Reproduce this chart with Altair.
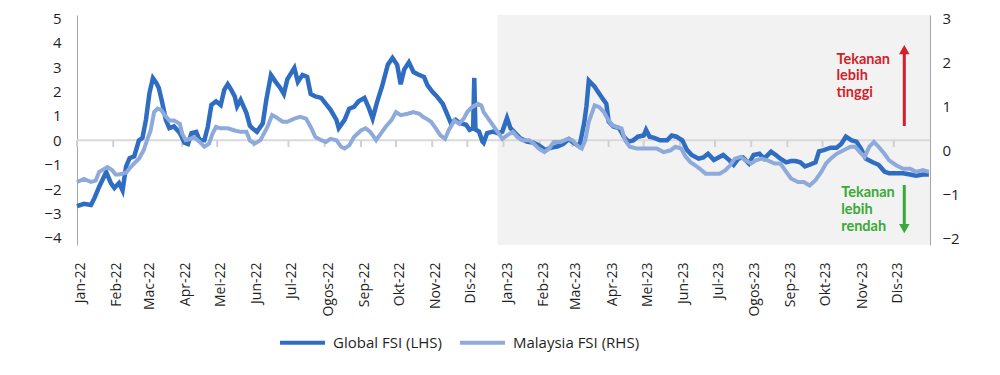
import altair as alt
import pandas as pd

# ---------------- data ----------------
MONTHS_MS = ["Jan", "Feb", "Mac", "Apr", "Mei", "Jun", "Jul", "Ogos", "Sep", "Okt", "Nov", "Dis"]
SERIES = ["Global FSI (LHS)", "Malaysia FSI (RHS)"]
COLORS = ["#2f6dc3", "#8eaadb"]

global_dates = [
    "2022-01-01", "2022-01-07", "2022-01-13", "2022-01-16", "2022-01-20", "2022-01-26", "2022-01-30",
    "2022-02-02", "2022-02-06", "2022-02-09", "2022-02-12", "2022-02-15", "2022-02-19", "2022-02-23",
    "2022-02-26", "2022-03-01", "2022-03-04", "2022-03-07", "2022-03-10", "2022-03-12", "2022-03-15",
    "2022-03-18", "2022-03-21", "2022-03-25", "2022-03-30", "2022-04-03", "2022-04-06", "2022-04-09",
    "2022-04-13", "2022-04-16", "2022-04-20", "2022-04-23", "2022-04-26", "2022-04-30", "2022-05-04",
    "2022-05-07", "2022-05-10", "2022-05-13", "2022-05-16", "2022-05-18", "2022-05-21", "2022-05-26",
    "2022-05-29", "2022-05-31", "2022-06-04", "2022-06-09", "2022-06-12", "2022-06-16", "2022-06-20",
    "2022-06-24", "2022-06-27", "2022-06-30", "2022-07-06", "2022-07-09", "2022-07-13", "2022-07-17",
    "2022-07-20", "2022-07-24", "2022-07-29", "2022-08-02", "2022-08-06", "2022-08-11", "2022-08-13",
    "2022-08-18", "2022-08-22", "2022-08-26", "2022-08-30", "2022-09-04", "2022-09-08", "2022-09-11",
    "2022-09-15", "2022-09-19", "2022-09-24", "2022-09-28", "2022-10-02", "2022-10-05", "2022-10-08",
    "2022-10-12", "2022-10-16", "2022-10-20", "2022-10-25", "2022-10-28", "2022-11-01", "2022-11-05",
    "2022-11-10", "2022-11-14", "2022-11-17", "2022-11-21", "2022-11-25", "2022-11-30", "2022-12-03",
    "2022-12-06", "2022-12-07", "2022-12-08", "2022-12-11", "2022-12-14", "2022-12-15", "2022-12-18",
    "2022-12-23", "2022-12-27", "2022-12-31", "2023-01-04", "2023-01-07", "2023-01-11", "2023-01-15",
    "2023-01-21", "2023-01-27", "2023-01-31", "2023-02-06", "2023-02-10", "2023-02-16", "2023-02-21",
    "2023-02-26", "2023-03-02", "2023-03-07", "2023-03-11", "2023-03-13", "2023-03-15", "2023-03-17",
    "2023-03-20", "2023-03-22", "2023-03-27", "2023-03-30", "2023-04-01", "2023-04-05", "2023-04-10",
    "2023-04-14", "2023-04-18", "2023-04-22", "2023-04-26", "2023-05-01", "2023-05-03", "2023-05-06",
    "2023-05-10", "2023-05-15", "2023-05-21", "2023-05-25", "2023-05-29", "2023-06-03", "2023-06-07",
    "2023-06-11", "2023-06-17", "2023-06-21", "2023-06-25", "2023-06-30", "2023-07-04", "2023-07-08",
    "2023-07-13", "2023-07-17", "2023-07-21", "2023-07-25", "2023-07-30", "2023-08-03", "2023-08-08",
    "2023-08-12", "2023-08-18", "2023-08-22", "2023-08-26", "2023-08-31", "2023-09-04", "2023-09-08",
    "2023-09-12", "2023-09-16", "2023-09-20", "2023-09-25", "2023-09-28", "2023-10-02", "2023-10-08",
    "2023-10-13", "2023-10-17", "2023-10-21", "2023-10-26", "2023-10-30", "2023-11-03", "2023-11-07",
    "2023-11-13", "2023-11-18", "2023-11-23", "2023-11-27", "2023-12-03", "2023-12-09", "2023-12-15",
    "2023-12-20", "2023-12-26", "2023-12-31",
]
global_vals = [
    -2.7, -2.6, -2.65, -2.36, -1.9, -1.3, -1.75,
    -1.95, -1.75, -2.05, -1.08, -0.73, -0.65, 0.0,
    0.1, 0.84, 1.94, 2.55, 2.35, 2.15, 1.53,
    0.84, 0.5, 0.57, 0.3, -0.1, -0.15, 0.3,
    0.35, 0.0, 0.0, 0.57, 1.45, 1.6, 1.45,
    2.07, 2.3, 2.07, 1.8, 1.4, 1.66, 1.12,
    0.6, 0.5, 0.35, 0.7, 1.66, 2.68, 2.4,
    2.15, 1.9, 2.5, 2.97, 2.4, 2.68, 2.6,
    1.9, 1.8, 1.74, 1.5, 1.25, 0.84, 0.5,
    0.84, 1.3, 1.37, 1.6, 1.74, 1.3, 0.9,
    1.6, 2.2, 3.1, 3.38, 3.1, 2.3, 2.9,
    3.2, 2.8, 2.7, 2.6, 2.25, 2.0, 1.8,
    1.5, 1.05, 0.7, 0.84, 0.7, 0.64, 0.43,
    0.5, 2.56, 0.45, 0.36, -0.05, -0.1, 0.3,
    0.36, 0.3, 0.36, 0.92, 0.5, 0.3, 0.1,
    -0.05, -0.1, -0.2, -0.4, -0.3, -0.25, -0.15,
    0.05, -0.1, -0.25, 0.7, 1.4, 2.45, 2.35,
    2.2, 2.05, 1.7, 1.5, 0.77, 0.57, 0.5,
    0.15, -0.05, 0.0, 0.15, 0.2, 0.43, 0.15,
    0.1, 0.0, 0.0, 0.2, 0.15, 0.0, -0.39,
    -0.6, -0.75, -0.7, -0.55, -0.8, -0.7, -0.6,
    -0.8, -1.0, -0.75, -0.7, -0.95, -0.6, -0.55,
    -0.75, -0.46, -0.6, -0.75, -0.9, -0.85, -0.85,
    -0.9, -1.07, -1.0, -0.9, -0.45, -0.4, -0.3,
    -0.3, -0.15, 0.15, 0.0, -0.05, -0.35, -0.75,
    -0.9, -1.0, -1.28, -1.35, -1.35, -1.35, -1.4,
    -1.45, -1.4, -1.4,
]

my_dates = [
    "2022-01-01", "2022-01-07", "2022-01-13", "2022-01-17", "2022-01-20", "2022-01-27", "2022-01-31",
    "2022-02-03", "2022-02-06", "2022-02-12", "2022-02-16", "2022-02-20", "2022-02-23", "2022-02-27",
    "2022-03-02", "2022-03-05", "2022-03-08", "2022-03-11", "2022-03-14", "2022-03-17", "2022-03-21",
    "2022-03-25", "2022-03-30", "2022-04-01", "2022-04-04", "2022-04-07", "2022-04-11", "2022-04-16",
    "2022-04-20", "2022-04-24", "2022-04-27", "2022-04-30", "2022-05-04", "2022-05-10", "2022-05-16",
    "2022-05-21", "2022-05-26", "2022-05-29", "2022-06-02", "2022-06-07", "2022-06-13", "2022-06-17",
    "2022-06-20", "2022-06-26", "2022-06-30", "2022-07-06", "2022-07-11", "2022-07-16", "2022-07-20",
    "2022-07-24", "2022-07-29", "2022-08-02", "2022-08-06", "2022-08-11", "2022-08-15", "2022-08-18",
    "2022-08-22", "2022-08-26", "2022-09-01", "2022-09-05", "2022-09-09", "2022-09-14", "2022-09-18",
    "2022-09-22", "2022-09-27", "2022-10-01", "2022-10-05", "2022-10-11", "2022-10-16", "2022-10-21",
    "2022-10-24", "2022-10-27", "2022-10-31", "2022-11-04", "2022-11-08", "2022-11-12", "2022-11-15",
    "2022-11-20", "2022-11-24", "2022-11-28", "2022-12-01", "2022-12-05", "2022-12-10", "2022-12-13",
    "2022-12-15", "2022-12-20", "2022-12-24", "2022-12-28", "2022-12-31", "2023-01-04", "2023-01-09",
    "2023-01-13", "2023-01-17", "2023-01-23", "2023-01-27", "2023-01-31", "2023-02-05", "2023-02-09",
    "2023-02-13", "2023-02-19", "2023-02-25", "2023-03-01", "2023-03-05", "2023-03-09", "2023-03-12",
    "2023-03-15", "2023-03-20", "2023-03-24", "2023-03-28", "2023-03-31", "2023-04-04", "2023-04-08",
    "2023-04-12", "2023-04-15", "2023-04-19", "2023-04-25", "2023-05-03", "2023-05-12", "2023-05-18",
    "2023-05-24", "2023-05-28", "2023-06-02", "2023-06-06", "2023-06-10", "2023-06-14", "2023-06-18",
    "2023-06-23", "2023-06-30", "2023-07-05", "2023-07-10", "2023-07-14", "2023-07-18", "2023-07-23",
    "2023-07-27", "2023-08-01", "2023-08-05", "2023-08-10", "2023-08-15", "2023-08-21", "2023-08-26",
    "2023-08-31", "2023-09-04", "2023-09-10", "2023-09-15", "2023-09-20", "2023-09-25", "2023-09-30",
    "2023-10-04", "2023-10-08", "2023-10-13", "2023-10-19", "2023-10-25", "2023-10-29", "2023-11-02",
    "2023-11-06", "2023-11-10", "2023-11-14", "2023-11-18", "2023-11-23", "2023-11-27", "2023-12-03",
    "2023-12-09", "2023-12-15", "2023-12-20", "2023-12-26", "2023-12-31",
]
my_vals = [
    -0.72, -0.65, -0.72, -0.69, -0.49, -0.38, -0.45,
    -0.55, -0.55, -0.51, -0.38, -0.27, -0.19, 0.0,
    0.23, 0.45, 0.87, 0.95, 0.92, 0.8, 0.68,
    0.68, 0.6, 0.38, 0.23, 0.25, 0.3, 0.19,
    0.08, 0.15, 0.38, 0.53, 0.5, 0.5, 0.45,
    0.42, 0.42, 0.22, 0.15, 0.23, 0.53, 0.8,
    0.76, 0.65, 0.65, 0.72, 0.76, 0.72, 0.53,
    0.3, 0.23, 0.19, 0.26, 0.23, 0.08, 0.04,
    0.11, 0.3, 0.45, 0.5, 0.42, 0.23, 0.38,
    0.53, 0.68, 0.87, 0.8, 0.83, 0.87, 0.83,
    0.76, 0.72, 0.65, 0.5, 0.34, 0.26, 0.45,
    0.68, 0.6, 0.72, 0.87, 0.98, 1.06, 1.02,
    0.87, 0.68, 0.53, 0.38, 0.26, 0.34, 0.42,
    0.3, 0.23, 0.23, 0.15, 0.04, -0.04, 0.04,
    0.19, 0.19, 0.26, 0.23, 0.11, 0.04, 0.23,
    0.65, 1.02, 0.98, 0.87, 0.72, 0.57, 0.53,
    0.5, 0.23, 0.08, 0.04, 0.04, 0.04, -0.04,
    0.0, 0.08, 0.04, -0.15, -0.27, -0.34, -0.42,
    -0.53, -0.53, -0.53, -0.45, -0.34, -0.19, -0.15,
    -0.23, -0.3, -0.23, -0.19, -0.23, -0.3, -0.3,
    -0.49, -0.64, -0.72, -0.72, -0.8, -0.68, -0.49,
    -0.3, -0.19, -0.08, 0.0, 0.08, 0.08, -0.04,
    -0.15, 0.08, 0.19, 0.08, -0.08, -0.23, -0.34,
    -0.42, -0.42, -0.49, -0.45, -0.49,
]

LEFT_TICKS = [-4, -3, -2, -1, 0, 1, 2, 3, 4, 5]
RIGHT_TICKS = [-2, -1, 0, 1, 2, 3]
LEFT_DOMAIN = [-4.29, 5.14]
RIGHT_DOMAIN = [-2.152, 3.075]
SHADE_START, SHADE_END = "2022-12-27", "2024-01-01"

UP_TEXT = ["Tekanan", "lebih", "tinggi"]
UP_TEXT_Y = [3.3, 2.63, 1.96]
DOWN_TEXT = ["Tekanan", "lebih", "rendah"]
DOWN_TEXT_Y = [-2.14, -2.85, -3.56]
UP_TEXT_DATE = "2023-10-13"
DOWN_TEXT_DATE = "2023-10-17"
ARROW_DATE = "2023-12-10"
UP_ARROW = [0.59, 3.72]     # shaft start, head position (left scale)
DOWN_ARROW = [-1.83, -3.62]

RED, GREEN = "#d11f2b", "#3aa935"
FONT = "Open Sans"
ANN_FONT = "Lato"
TXT = "#1f1f1f"
W, H = 853, 230

# ---------------- tables ----------------
g_df = pd.DataFrame({"date": global_dates, "value": global_vals, "series": SERIES[0]})
m_df = pd.DataFrame({"date": my_dates, "value": my_vals, "series": SERIES[1]})
shade_df = pd.DataFrame({"start": [SHADE_START], "end": [SHADE_END],
                         "top": [LEFT_DOMAIN[1]], "bot": [LEFT_DOMAIN[0]]})
month_starts = pd.date_range("2022-01-01", "2023-12-01", freq="MS").strftime("%Y-%m-%d").tolist()
tick_df = pd.DataFrame({"date": month_starts, "y": 0.0, "y2": -0.27})
up_df = pd.DataFrame({"date": UP_TEXT_DATE, "y": UP_TEXT_Y, "text": UP_TEXT})
down_df = pd.DataFrame({"date": DOWN_TEXT_DATE, "y": DOWN_TEXT_Y, "text": DOWN_TEXT})
up_arrow_df = pd.DataFrame({"date": [ARROW_DATE], "y": [UP_ARROW[0]], "y2": [UP_ARROW[1]]})
down_arrow_df = pd.DataFrame({"date": [ARROW_DATE], "y": [DOWN_ARROW[0]], "y2": [DOWN_ARROW[1]]})

# ---------------- scales / axes ----------------
xscale = alt.Scale(type="utc", nice=False,
                   domain=[alt.DateTime(year=2022, month=1, date=1, utc=True),
                           alt.DateTime(year=2024, month=1, date=1, utc=True)])
month_vals = [alt.DateTime(year=2022 + i // 12, month=i % 12 + 1, date=1, utc=True) for i in range(24)]
label_expr = ("[" + ",".join("'%s'" % m for m in MONTHS_MS) + "][utcmonth(datum.value)]"
              " + '-' + utcFormat(datum.value, '%y')")
xaxis = alt.Axis(title=None, values=month_vals, labelExpr=label_expr, labelAngle=-90,
                 labelAlign="right", labelBaseline="middle", labelPadding=13.5, translate=4,
                 ticks=False, domain=False, grid=False, labelFontSize=14, labelFont=FONT,
                 labelColor=TXT, labelOverlap=False, labelFlush=False)
lscale = alt.Scale(domain=LEFT_DOMAIN, nice=False, zero=False)
rscale = alt.Scale(domain=RIGHT_DOMAIN, nice=False, zero=False)
laxis = alt.Axis(title=None, values=LEFT_TICKS, grid=False, ticks=False, domainColor="#a6a6a6",
                 domainWidth=1, labelFontSize=15, labelPadding=16, labelColor=TXT, labelFont=FONT)
raxis = alt.Axis(title=None, values=RIGHT_TICKS, orient="right", grid=False, ticks=False,
                 domainColor="#a6a6a6", domainWidth=1, labelFontSize=15, labelPadding=12,
                 labelColor=TXT, labelFont=FONT)
legend = alt.Legend(title=None, orient="none", legendX=201, legendY=303, direction="horizontal",
                    symbolType="stroke", symbolStrokeWidth=4, symbolSize=2025, labelFontSize=15,
                    labelFont=FONT, labelColor=TXT, labelOffset=6, columnPadding=10, padding=0)
color = alt.Color("series:N", scale=alt.Scale(domain=SERIES, range=COLORS), legend=legend)

# ---------------- layers ----------------
shade = alt.Chart(shade_df).mark_rect(color="#f2f2f2").encode(
    x=alt.X("start:T", scale=xscale, axis=xaxis), x2="end:T",
    y=alt.Y("top:Q", scale=lscale, axis=laxis), y2="bot:Q")
zero = alt.Chart(shade_df).mark_rule(color="#d9d9d9", strokeWidth=2).encode(
    y=alt.Y(datum=0, scale=lscale, axis=laxis))
ticks = alt.Chart(tick_df).mark_rule(color="#d0d0d0", strokeWidth=2).encode(
    x=alt.X("date:T", scale=xscale, axis=xaxis),
    y=alt.Y("y:Q", scale=lscale, axis=laxis), y2="y2:Q")
gline = alt.Chart(g_df).mark_line(strokeWidth=4.5).encode(
    x=alt.X("date:T", scale=xscale, axis=xaxis),
    y=alt.Y("value:Q", scale=lscale, axis=laxis), color=color)
up_txt = alt.Chart(up_df).mark_text(align="left", baseline="middle", font=ANN_FONT, fontSize=14.5,
                                     fontWeight="bold", color=RED).encode(
    x=alt.X("date:T", scale=xscale, axis=xaxis), y=alt.Y("y:Q", scale=lscale, axis=laxis), text="text:N")
down_txt = alt.Chart(down_df).mark_text(align="left", baseline="middle", font=ANN_FONT, fontSize=14.5,
                                         fontWeight="bold", color=GREEN).encode(
    x=alt.X("date:T", scale=xscale, axis=xaxis), y=alt.Y("y:Q", scale=lscale, axis=laxis), text="text:N")
up_shaft = alt.Chart(up_arrow_df).mark_rule(color=RED, strokeWidth=3).encode(
    x=alt.X("date:T", scale=xscale, axis=xaxis), y=alt.Y("y:Q", scale=lscale, axis=laxis), y2="y2:Q")
up_head = alt.Chart(up_arrow_df).mark_point(shape="triangle-up", filled=True, size=110, color=RED,
                                             opacity=1).encode(
    x=alt.X("date:T", scale=xscale, axis=xaxis), y=alt.Y("y2:Q", scale=lscale, axis=laxis))
down_shaft = alt.Chart(down_arrow_df).mark_rule(color=GREEN, strokeWidth=3).encode(
    x=alt.X("date:T", scale=xscale, axis=xaxis), y=alt.Y("y:Q", scale=lscale, axis=laxis), y2="y2:Q")
down_head = alt.Chart(down_arrow_df).mark_point(shape="triangle-down", filled=True, size=110,
                                                 color=GREEN, opacity=1).encode(
    x=alt.X("date:T", scale=xscale, axis=xaxis), y=alt.Y("y2:Q", scale=lscale, axis=laxis))

left = alt.layer(shade, zero, ticks, gline, up_txt, down_txt, up_shaft, up_head, down_shaft, down_head)

mline = alt.Chart(m_df).mark_line(strokeWidth=4).encode(
    x=alt.X("date:T", scale=xscale, axis=xaxis),
    y=alt.Y("value:Q", scale=rscale, axis=raxis), color=color)

chart = alt.layer(left, mline).resolve_scale(y="independent").properties(
    width=W, height=H,
    padding={"left": 77, "top": 15, "right": 70, "bottom": 130},
    autosize=alt.AutoSizeParams(type="none"),
    background="white",
).configure_view(stroke=None)

chart.save("out.html", embed_options={"renderer": "svg", "actions": False})
